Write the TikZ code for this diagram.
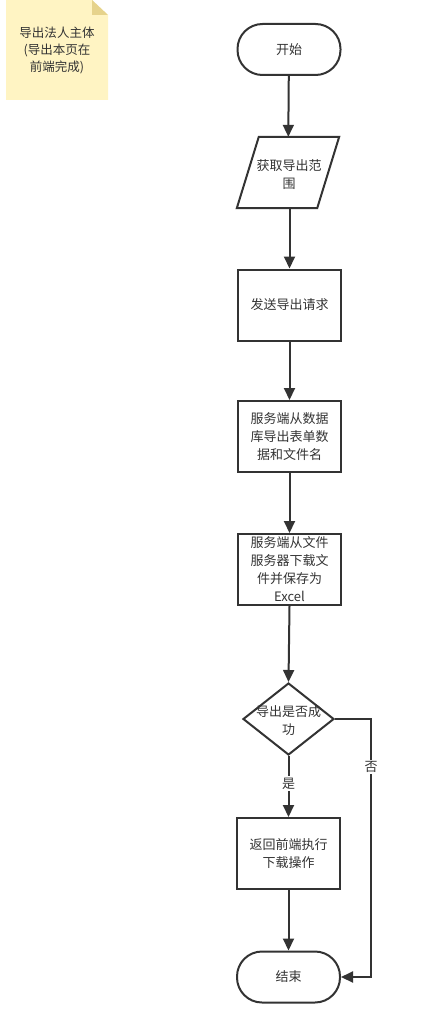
\documentclass[tikz,border=0pt]{standalone}
\usepackage{fontspec}
\setmainfont{Noto Sans CJK SC}
\usetikzlibrary{shapes.geometric,arrows.meta}
\definecolor{ink}{HTML}{333333}
\definecolor{notefill}{HTML}{FFF4C3}
\definecolor{notefold}{HTML}{E6D38C}
\begin{document}
\begin{tikzpicture}[x=1pt,y=-1pt,
  every node/.style={text=ink},
  txt/.style={font=\fontsize{13}{18}\selectfont, align=center},
  box/.style={txt, draw=ink, line width=2pt, fill=white, minimum width=103pt, minimum height=71pt, inner sep=0pt},
  term/.style={box, rounded corners=25pt, minimum height=51pt},
  paraarea/.style={txt, minimum width=102pt, minimum height=71pt, inner sep=0pt},
  outline/.style={draw=ink, line width=2pt, fill=white, line join=miter},
  decide/.style={diamond, draw=ink, line width=2pt, fill=white, minimum width=91pt, minimum height=72pt, inner sep=0pt},
  flow/.style={draw=ink, line width=2pt, -{Triangle[length=12pt,width=11pt]}},
  lab/.style={txt, fill=white, inner sep=1.5pt}
]
\useasboundingbox (0,0) rectangle (437,1019);
% note
\fill[notefill] (6,0) -- (92,0) -- (108,15) -- (108,100) -- (6,100) -- cycle;
\fill[notefold] (92,0) -- (92,15) -- (108,15) -- cycle;
\node[font=\fontsize{12.5}{17}\selectfont, align=center] (note) at (57,50) {导出法人主体\\(导出本页在\\前端完成)};
% flow
\node[term] (start) at (289,49.5) {开始};
\node[paraarea] (range) at (288,172.5) {};
\draw[outline] ([xshift=22pt]range.north west) -- (range.north east) -- ([xshift=-22pt]range.south east) -- (range.south west) -- cycle;
\node[txt] (rangetext) at (289,175) {获取导出范\\围};
\node[box] (send) at (289.5,305) {发送导出请求};
\node[box] (db) at (289.5,436.5) {服务端从数据\\库导出表单数\\据和文件名};
\node[box] (dl) at (289.5,569.5) {服务端从文件\\服务器下载文\\件并保存为\\Excel};
\node[decide] (ok) at (288.5,719) {};
\node[txt] (oktext) at (288.5,721) {导出是否成\\功};
\node[box] (ret) at (288.5,853.5) {返回前端执行\\下载操作};
\node[term] (end) at (288.5,977) {结束};
\draw[flow] (start) -- (range);
\draw[flow] (range.south -| send.north) -- (send.north);
\draw[flow] (send) -- (db);
\draw[flow] (db) -- (dl);
\draw[flow] (dl.south) -- (ok.north);
\draw[flow] (ok.south) -- node[lab, pos=0.45] {是} (ret.north);
\draw[flow] (ok.east) -- ++(36,0) |- node[lab, pos=0.093] {否} (end.east);
\draw[flow] (ret) -- (end);
\end{tikzpicture}
\end{document}
